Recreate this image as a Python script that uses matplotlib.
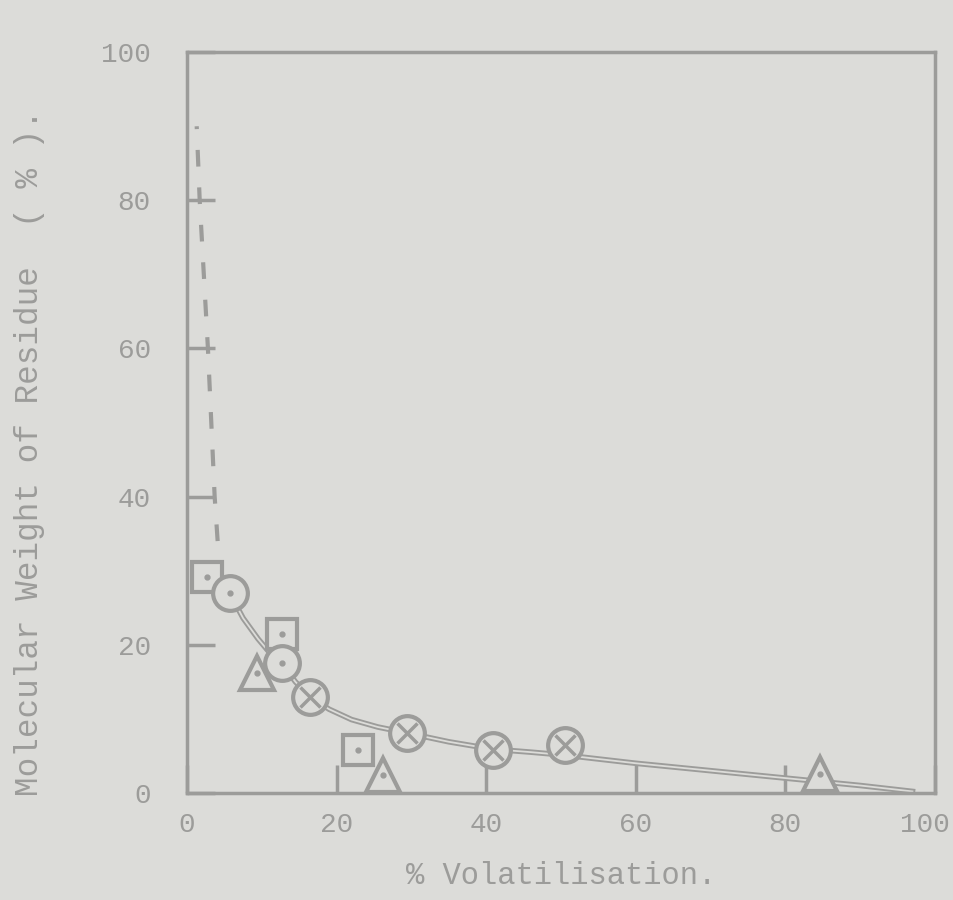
import matplotlib
matplotlib.use("Agg")
import matplotlib.pyplot as plt
import matplotlib.transforms as mtransforms

# values
sq_x = [2.7, 12.7, 22.9]
sq_y = [29.2, 21.4, 5.8]
dot_x = [5.7, 12.7]
dot_y = [27.0, 17.6]
cross_x = [16.4, 29.4, 40.9, 50.5]
cross_y = [13.0, 8.1, 5.8, 6.5]
tri_x = [9.4, 26.2, 84.6]
tri_y = [16.2, 2.4, 2.6]

# hand drawn curve through the circles
curve_x = [5.7, 7.5, 9.5, 11.0, 12.7, 14.5, 16.4, 19, 22, 25.5, 29.4, 35, 40.9, 46, 50.5, 60, 70, 80, 90, 97]
curve_y = [27.0, 23.6, 20.8, 19.0, 17.4, 15.0, 13.0, 11.3, 9.9, 8.9, 8.1, 6.9, 5.9, 5.5, 5.1, 4.0, 3.0, 2.0, 1.0, 0.2]
# dashed continuation towards the y axis
dash_x = [4.1, 3.7, 2.8, 1.7, 1.3]
dash_y = [34, 40, 60, 80, 90]

ticks = [0, 20, 40, 60, 80, 100]

bg = "#dcdcd9"
ink = "#9c9c9a"
font = "Liberation Mono"

fig = plt.figure(figsize=(9.54, 9.0), dpi=100, facecolor=bg)
ax = fig.add_axes([0.196, 0.119, 0.784, 0.823], facecolor=bg)

# double-stroke look of the pen lines
ax.plot(curve_x, curve_y, color=ink, lw=4, zorder=2)
ax.plot(curve_x, curve_y, color=bg, lw=1.3, zorder=2)
ax.plot(dash_x, dash_y, color=ink, lw=3, dashes=(4, 5), zorder=2)

mk = dict(color="none", markeredgecolor=ink, markerfacecolor=bg, markeredgewidth=3, linestyle="none", zorder=3)
ax.plot(sq_x, sq_y, marker="s", markersize=21, **mk)
ax.plot(dot_x, dot_y, marker="o", markersize=25, **mk)
ax.plot(cross_x, cross_y, marker="o", markersize=25, **mk)
ax.plot(tri_x, tri_y, marker="^", markersize=24, **mk)
# centre dots and crosses
ax.plot(sq_x + dot_x + tri_x, sq_y + dot_y + tri_y, linestyle="none",
        marker="o", markersize=3.5, color=ink, zorder=4)
ax.plot(cross_x, cross_y, linestyle="none", marker="x", markersize=14,
        markeredgewidth=2.5, color=ink, zorder=4)

ax.set_xlim(0, 100)
ax.set_ylim(0, 100)
ax.set_xticks(ticks)
ax.set_yticks(ticks)
ax.tick_params(direction="in", length=20, width=2.5, color=ink, labelcolor=ink,
               labelsize=20, pad=14)
ax.tick_params(axis="y", pad=26)
for lab in ax.get_xticklabels() + ax.get_yticklabels():
    lab.set_fontfamily(font)
# keep the last x label inside the page, as in the original
last = ax.get_xticklabels()[-1]
last.set_transform(last.get_transform() + mtransforms.ScaledTranslation(-10 / 100, 0, fig.dpi_scale_trans))
for s in ax.spines.values():
    s.set_color(ink)
    s.set_linewidth(2.5)

ax.set_xlabel("% Volatilisation.", fontsize=22, family=font, color=ink, labelpad=16)
ax.set_ylabel("Molecular Weight of Residue  ( % ).", fontsize=23.5, family=font,
              color=ink)
ax.yaxis.set_label_coords(-0.19, 0.46)

fig.savefig("out.png", dpi=100, facecolor=bg)
